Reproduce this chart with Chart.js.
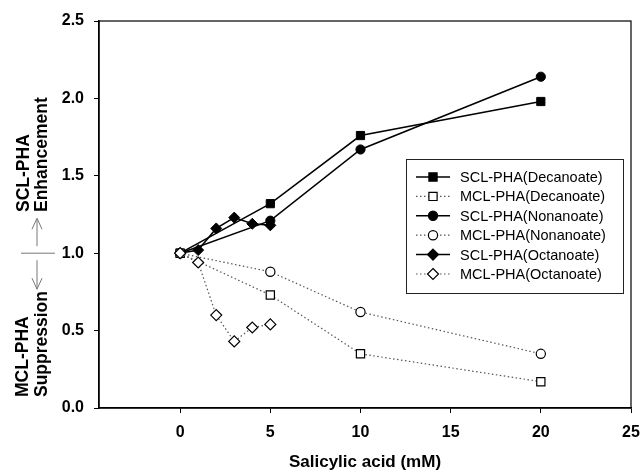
<!DOCTYPE html>
<html>
<head>
<meta charset="utf-8">
<script src="https://cdn.jsdelivr.net/npm/chart.js@4/dist/chart.umd.min.js"></script>
<style>
  body { margin: 0; background: #fff; }
  #wrap { width: 641px; height: 474px; }
</style>
</head>
<body>
<div id="wrap"><canvas id="myChart" width="641" height="474"></canvas></div>
<script>
// valeurs
let xTicks = [0, 5, 10, 15, 20, 25];
let yTicks = [0, 0.5, 1.0, 1.5, 2.0, 2.5];

let xDec = [0, 5, 10, 20];
let sclDec = [1.0, 1.32, 1.76, 1.98];
let mclDec = [1.0, 0.73, 0.35, 0.17];

let xNon = [0, 5, 10, 20];
let sclNon = [1.0, 1.21, 1.67, 2.14];
let mclNon = [1.0, 0.88, 0.62, 0.35];

let xOct = [0, 1, 2, 3, 4, 5];
let sclOct = [1.0, 1.02, 1.16, 1.23, 1.19, 1.18];
let mclOct = [1.0, 0.94, 0.60, 0.43, 0.52, 0.54];

let labels = ['SCL-PHA(Decanoate)', 'MCL-PHA(Decanoate)', 'SCL-PHA(Nonanoate)',
              'MCL-PHA(Nonanoate)', 'SCL-PHA(Octanoate)', 'MCL-PHA(Octanoate)'];

const FONT = '"Liberation Sans", Arial, sans-serif';

function points(xs, ys) {
    return xs.map((x, i) => ({ x: x, y: ys[i] }));
} // construit les paires x/y

function solid(label, xs, ys, shape, radius) {
    return {
        label: label, data: points(xs, ys),
        borderColor: '#000', borderWidth: 1.5,
        pointStyle: shape, pointRadius: radius,
        pointBackgroundColor: '#000', pointBorderColor: '#000', pointBorderWidth: 1,
        order: 2
    };
}

function dotted(label, xs, ys, shape, radius, order) {
    return {
        label: label, data: points(xs, ys),
        borderColor: '#555', borderWidth: 1.2, borderDash: [1.5, 2.5],
        pointStyle: shape, pointRadius: radius,
        pointBackgroundColor: '#fff', pointBorderColor: '#000', pointBorderWidth: 1.2,
        order: order
    };
}

// cadre + légende + annotations à gauche
const decorations = {
    id: 'decorations',
    afterDraw(chart) {
        let ctx = chart.ctx;
        let area = chart.chartArea;
        ctx.save();
        ctx.strokeStyle = '#000';
        ctx.lineWidth = 1.2;
        ctx.strokeRect(area.left, area.top, area.right - area.left, area.bottom - area.top);

        // légende
        let bx = 406, by = 159, bw = 217, bh = 134;
        ctx.lineWidth = 1;
        ctx.strokeStyle = '#222';
        ctx.strokeRect(bx + 0.5, by + 0.5, bw, bh);
        chart.data.datasets.forEach((ds, i) => {
            let y = 177 + i * 19.4;
            ctx.save();
            ctx.strokeStyle = ds.borderColor;
            ctx.lineWidth = ds.borderWidth;
            ctx.setLineDash(ds.borderDash || []);
            ctx.beginPath();
            ctx.moveTo(416, y);
            ctx.lineTo(450, y);
            ctx.stroke();
            ctx.restore();
            drawMarker(ctx, ds.pointStyle, 433, y, ds.pointRadius, ds.pointBackgroundColor);
            ctx.fillStyle = '#000';
            ctx.font = '14.5px ' + FONT;
            ctx.textAlign = 'left';
            ctx.textBaseline = 'middle';
            ctx.fillText(ds.label, 460, y + 1);
        });

        // texte vertical + flèches
        let y1 = chart.scales.y.getPixelForValue(1.0);
        ctx.fillStyle = '#000';
        ctx.font = 'bold 17.5px ' + FONT;
        ctx.textBaseline = 'middle';
        ctx.textAlign = 'left';
        [['SCL-PHA', 24, 212], ['Enhancement', 42, 212], ['MCL-PHA', 23, 397], ['Suppression', 42, 397]]
            .forEach(t => {
                ctx.save();
                ctx.translate(t[1], t[2]);
                ctx.rotate(-Math.PI / 2);
                ctx.fillText(t[0], 0, 0);
                ctx.restore();
            });
        ctx.strokeStyle = '#777';
        ctx.lineWidth = 1;
        ctx.beginPath();
        ctx.moveTo(21, y1); ctx.lineTo(55, y1);
        // flèche haut
        ctx.moveTo(37, y1 - 7); ctx.lineTo(37, y1 - 34);
        ctx.moveTo(32, y1 - 24); ctx.lineTo(37, y1 - 35); ctx.lineTo(42, y1 - 24);
        // flèche bas
        ctx.moveTo(37, y1 + 7); ctx.lineTo(37, y1 + 36);
        ctx.moveTo(32, y1 + 25); ctx.lineTo(37, y1 + 36); ctx.lineTo(42, y1 + 25);
        ctx.stroke();
        ctx.restore();
    }
};

function drawMarker(ctx, shape, x, y, r, fill) {
    ctx.save();
    ctx.fillStyle = fill;
    ctx.strokeStyle = '#000';
    ctx.lineWidth = 1.2;
    ctx.beginPath();
    if (shape === 'rect') {
        let s = r * Math.SQRT1_2;
        ctx.rect(x - s, y - s, 2 * s, 2 * s);
    } else if (shape === 'rectRot') {
        ctx.moveTo(x, y - r); ctx.lineTo(x + r, y); ctx.lineTo(x, y + r); ctx.lineTo(x - r, y);
        ctx.closePath();
    } else {
        ctx.arc(x, y, r, 0, Math.PI * 2);
    }
    ctx.fill();
    ctx.stroke();
    ctx.restore();
}

let ctx = document.getElementById('myChart').getContext('2d');
let chart = new Chart(ctx, {
    type: 'line',
    data: {
        datasets: [
            solid(labels[0], xDec, sclDec, 'rect', 5.8),
            dotted(labels[1], xDec, mclDec, 'rect', 5.8, 1),
            solid(labels[2], xNon, sclNon, 'circle', 4.6),
            dotted(labels[3], xNon, mclNon, 'circle', 4.6, 1),
            solid(labels[4], xOct, sclOct, 'rectRot', 5.5),
            dotted(labels[5], xOct, mclOct, 'rectRot', 5.5, 0)
        ]
    },
    options: {
        responsive: false,
        animation: false,
        layout: { padding: { top: 21, right: 1, left: 0, bottom: 0 } },
        plugins: {
            legend: { display: false },
            tooltip: { enabled: false }
        },
        scales: {
            x: {
                type: 'linear',
                min: -4.5,
                max: 25,
                afterBuildTicks: scale => { scale.ticks = xTicks.map(v => ({ value: v })); },
                afterFit: scale => { scale.height = 66; scale.paddingRight = 10; },
                grid: { drawOnChartArea: false, tickLength: 5, color: '#000' },
                border: { color: '#000', width: 1.5 },
                ticks: { color: '#000', padding: 10, maxRotation: 0, font: { family: FONT, size: 16, weight: 'bold' } },
                title: {
                    display: true, text: 'Salicylic acid (mM)', color: '#000',
                    font: { family: FONT, size: 17, weight: 'bold' },
                    padding: { top: 0, bottom: 1 }
                }
            },
            y: {
                min: 0,
                max: 2.5,
                afterBuildTicks: scale => { scale.ticks = yTicks.map(v => ({ value: v })); },
                afterFit: scale => { scale.width = 99; },
                grid: { drawOnChartArea: false, tickLength: 5, color: '#000' },
                border: { color: '#000', width: 1.5 },
                ticks: {
                    color: '#000', padding: 10,
                    font: { family: FONT, size: 16, weight: 'bold' },
                    callback: v => Number(v).toFixed(1)
                }
            }
        }
    },
    plugins: [decorations]
});
</script>
</body>
</html>
